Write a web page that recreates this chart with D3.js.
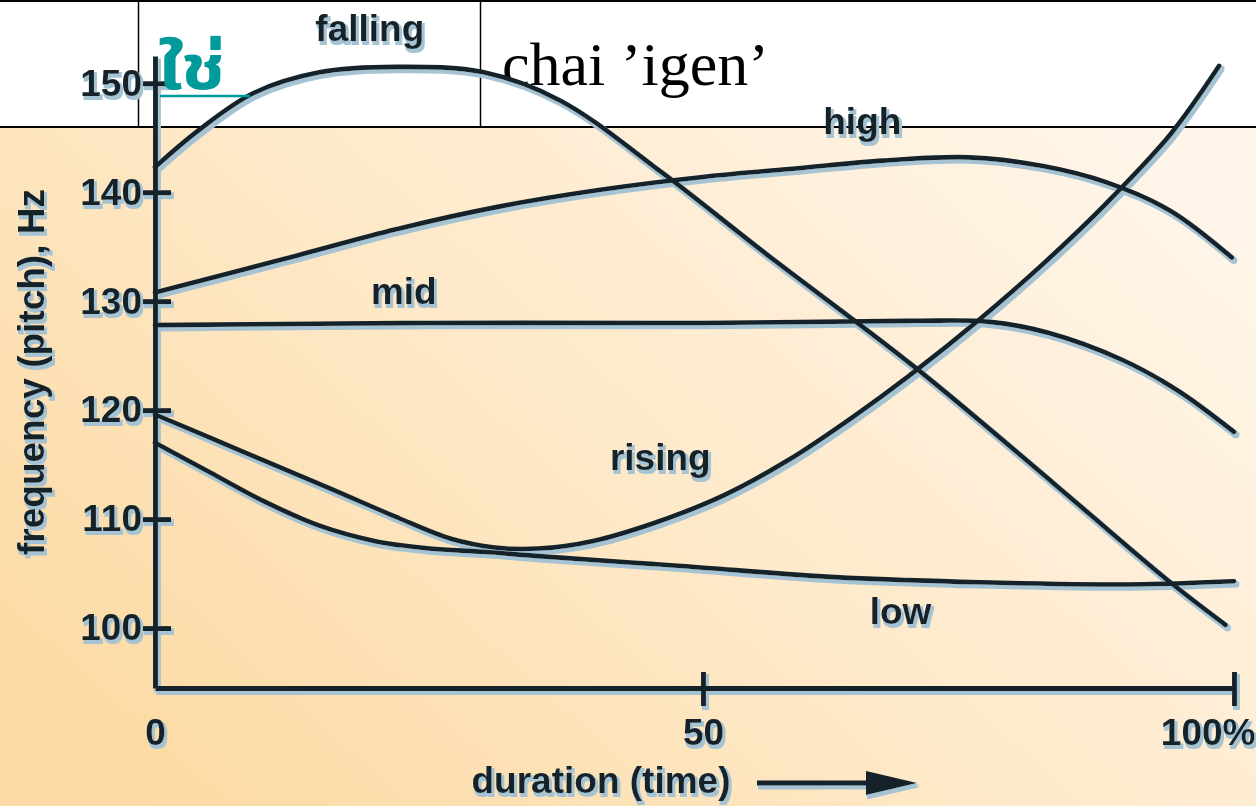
<!DOCTYPE html>
<html>
<head>
<meta charset="utf-8">
<script src="https://cdn.jsdelivr.net/npm/d3@7"></script>
<style>
body { margin:0; overflow:hidden; background:#fff; }
</style>
</head>
<body>
<div id="viz"></div>
<script>
var width = 1256
var height = 806

// tone contours, duration in % and pitch in Hz
var fallingX  = [0, 4, 9, 15, 22, 30, 37, 46, 56, 70, 83, 94, 99.2];
var fallingHz = [142.3, 145.7, 149.1, 151.0, 151.5, 151.0, 148.4, 142.0, 134.3, 123.9, 113.3, 104.2, 100.3];

var highX  = [0, 13, 22, 31.5, 40.5, 50, 59, 67, 75, 82, 88, 94, 99.8];
var highHz = [130.8, 134.2, 136.6, 138.7, 140.2, 141.4, 142.2, 142.9, 143.2, 142.4, 140.9, 138.3, 134.0];

var midX  = [0, 25, 50, 70, 77, 82.5, 89.5, 94.7, 100];
var midHz = [127.8, 128.0, 128.0, 128.2, 128.1, 127.1, 124.6, 121.8, 118.0];

var risingX  = [0, 8, 16, 22, 27, 31, 35, 40, 46, 52, 58, 64, 70, 76, 82, 88, 94, 98.6];
var risingHz = [119.6, 116.2, 112.8, 110.2, 108.2, 107.4, 107.3, 108.0, 109.8, 112.2, 115.4, 119.3, 123.6, 128.3, 133.4, 139.0, 145.3, 151.6];

var lowX  = [0, 5, 10, 15, 20, 25, 30, 35, 48, 62, 76, 90, 100];
var lowHz = [117.0, 114.3, 111.6, 109.4, 108.0, 107.3, 107.0, 106.6, 105.7, 104.7, 104.2, 104.0, 104.3];

var toneNames = ["falling", "high", "mid", "rising", "low"];
var labelX  = [19.6, 65.0, 22.7, 46.1, 68.6];
var labelHz = [153.9, 145.3, 129.7, 114.5, 100.4];

var yTicks = [100, 110, 120, 130, 140, 150];
var xTicks = [0, 50, 100];

var series = [
	{name:"falling", x:fallingX, hz:fallingHz},
	{name:"high", x:highX, hz:highHz},
	{name:"mid", x:midX, hz:midHz},
	{name:"rising", x:risingX, hz:risingHz},
	{name:"low", x:lowX, hz:lowHz}
];

var canvas = d3.select("#viz")
	.append("svg")
	.attr("width", width)
	.attr("height", height);

var defs = canvas.append("defs");

var grad = defs.append("linearGradient")
	.attr("id", "bg")
	.attr("x1", 0).attr("y1", 0.8)
	.attr("x2", 1).attr("y2", 0.2);
grad.append("stop").attr("offset", 0).attr("stop-color", "#fcdaa3");
grad.append("stop").attr("offset", 0.5).attr("stop-color", "#fee9c9");
grad.append("stop").attr("offset", 1).attr("stop-color", "#fff5e8");

// bluish halo under the dark ink
var shadow = defs.append("filter")
	.attr("id", "shadow")
	.attr("x", "-5%").attr("y", "-5%")
	.attr("width", "110%").attr("height", "110%");
shadow.append("feMorphology").attr("in", "SourceAlpha").attr("operator", "dilate").attr("radius", 0.7).attr("result", "d");
shadow.append("feOffset").attr("in", "d").attr("dx", 1.5).attr("dy", 2.5).attr("result", "o");
shadow.append("feFlood").attr("flood-color", "#a5c3d2");
shadow.append("feComposite").attr("in2", "o").attr("operator", "in").attr("result", "s");
var merge = shadow.append("feMerge");
merge.append("feMergeNode").attr("in", "s");
merge.append("feMergeNode").attr("in", "SourceGraphic");

canvas.append("rect")
	.attr("width", width).attr("height", 128)
	.attr("fill", "#fff");
canvas.append("rect")
	.attr("y", 128)
	.attr("width", width).attr("height", height - 128)
	.attr("fill", "url(#bg)");

// table row on top
canvas.append("line").attr("x1", 0).attr("x2", width).attr("y1", 1).attr("y2", 1)
	.attr("stroke", "#000").attr("stroke-width", 2);
canvas.append("line").attr("x1", 0).attr("x2", width).attr("y1", 127).attr("y2", 127)
	.attr("stroke", "#000").attr("stroke-width", 2);
[138.5, 480.5].forEach(function(cx){
	canvas.append("line").attr("x1", cx).attr("x2", cx).attr("y1", 0).attr("y2", 127)
		.attr("stroke", "#000").attr("stroke-width", 1.5);
});

canvas.append("text")
	.text("chai \u2019igen\u2019")
	.attr("x", 502)
	.attr("y", 85)
	.attr("font-family", "'Liberation Serif', 'Times New Roman', serif")
	.attr("font-size", 62)
	.attr("fill", "#000");

var x = d3.scaleLinear()
	.domain([0, 50, 100])
	.range([155, 703, 1234]);

var y = d3.scaleLinear()
	.domain([94.5, 152.5])
	.range([688, 56]);

var valueLine = d3.line()
	.x(function(d){return x(d[0]);})
	.y(function(d){return y(d[1]);})
	.curve(d3.curveCatmullRom.alpha(0.5));

var font = "'Liberation Sans', Arial, Helvetica, sans-serif";
var ink = "#13232a";
var lineWidth = 4.6;

var g = canvas.append("g")
	.attr("filter", "url(#shadow)");

g.append("g")
	.attr("transform", "translate(" + x(0) + ",0)")
	.call(d3.axisLeft(y).tickValues(yTicks).tickSize(12).tickPadding(1).tickSizeOuter(0));
g.append("g")
	.attr("transform", "translate(" + x(0) + ",0)")
	.call(d3.axisRight(y).tickValues(yTicks).tickSize(16).tickFormat("").tickSizeOuter(0))
	.select(".domain").remove();

var xAxis = g.append("g")
	.attr("transform", "translate(0," + y(94.5) + ")")
	.call(d3.axisBottom(x).tickValues(xTicks).tickSize(18).tickPadding(13).tickSizeOuter(0)
		.tickFormat(function(d){return d === 100 ? "100%" : d;}));
g.append("g")
	.attr("transform", "translate(0," + y(94.5) + ")")
	.call(d3.axisTop(x).tickValues([50, 100]).tickSize(16).tickFormat("").tickSizeOuter(0))
	.select(".domain").remove();

xAxis.selectAll(".tick").filter(function(d){return d === 0;}).select("line").remove();
xAxis.selectAll(".tick").filter(function(d){return d === 100;}).select("text")
	.attr("text-anchor", "end").attr("x", 21);

g.selectAll(".domain, .tick line")
	.attr("stroke", ink)
	.attr("stroke-width", lineWidth + 0.3);
g.selectAll(".tick text")
	.attr("fill", ink)
	.attr("font-family", font)
	.attr("font-weight", "bold")
	.attr("font-size", 37);

series.forEach(function(s){
	g.append("path")
		.datum(s.x.map(function(v, i){return [v, s.hz[i]];}))
		.attr("d", valueLine)
		.attr("fill", "none")
		.attr("stroke", ink)
		.attr("stroke-width", lineWidth)
		.attr("stroke-linecap", "round");
});

g.selectAll(".tone-label")
	.data(toneNames)
	.enter()
	.append("text")
	.attr("class", "tone-label")
	.text(function(d){return d;})
	.attr("x", function(d, i){return x(labelX[i]);})
	.attr("y", function(d, i){return y(labelHz[i]);})
	.attr("text-anchor", "middle")
	.attr("font-family", font)
	.attr("font-weight", "bold")
	.attr("font-size", 37)
	.attr("fill", ink);

g.append("text")
	.text("frequency (pitch), Hz")
	.attr("transform", "translate(44,372) rotate(-90)")
	.attr("text-anchor", "middle")
	.attr("font-family", font)
	.attr("font-weight", "bold")
	.attr("font-size", 37)
	.attr("fill", ink);

g.append("text")
	.text("duration (time)")
	.attr("x", 601)
	.attr("y", 793)
	.attr("text-anchor", "middle")
	.attr("font-family", font)
	.attr("font-weight", "bold")
	.attr("font-size", 37)
	.attr("fill", ink);

g.append("line")
	.attr("x1", 757).attr("x2", 880)
	.attr("y1", 783).attr("y2", 783)
	.attr("stroke", ink)
	.attr("stroke-width", lineWidth + 0.3);
g.append("path")
	.attr("d", "M866,771 L917,783 L866,795 Z")
	.attr("fill", ink);

// Thai link text in the table cell
canvas.append("text")
	.text("\u0e43\u0e0a\u0e48")
	.attr("transform", "translate(158,89) scale(1.2,1)")
	.attr("font-family", "'Noto Sans Thai', 'Noto Serif Thai', 'Tlwg Typo', 'Garuda', 'Noto Sans', serif")
	.attr("font-size", 62)
	.attr("font-weight", "bold")
	.attr("fill", "#009a9a");
canvas.append("line")
	.attr("x1", 160).attr("x2", 250)
	.attr("y1", 96).attr("y2", 96)
	.attr("stroke", "#009a9a")
	.attr("stroke-width", 2.5);
</script>
</body>
</html>
